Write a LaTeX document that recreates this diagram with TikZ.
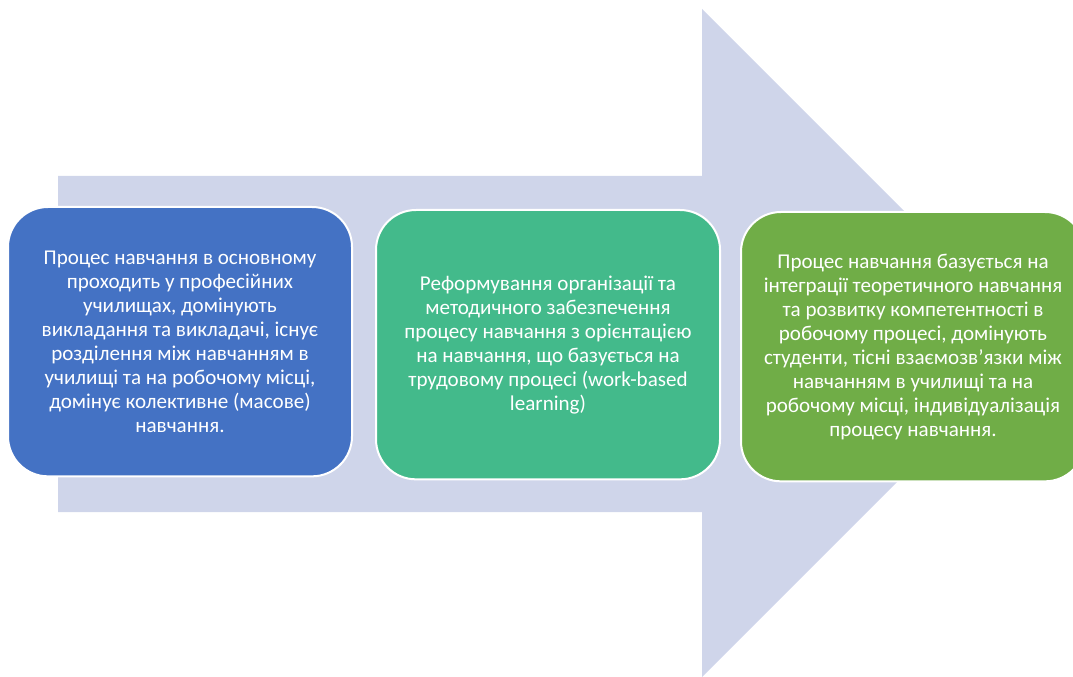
\documentclass[tikz,border=0pt]{standalone}
\usepackage{fontspec}
\setmainfont{Carlito}
\begin{document}
\begin{tikzpicture}[x=0.75pt,y=-0.75pt,
  stage/.style={draw=white, line width=1.5pt, rounded corners=30pt,
    text=white, align=center, font=\fontsize{15.8pt}{18pt}\selectfont,
    minimum height=202pt, anchor=north west, inner sep=0pt},
  flow/.style={fill=arrowfill, draw=none}]
\definecolor{arrowfill}{HTML}{CFD5EA}
\definecolor{bluebox}{HTML}{4472C4}
\definecolor{tealbox}{HTML}{43BA8B}
\definecolor{greenbox}{HTML}{70AD47}
\useasboundingbox (0,0) rectangle (1073,677);
% broad background arrow
\fill[flow] (58,176) -- (702,176) -- (702,9) -- (1036,343)
  -- (702,677) -- (702,512) -- (58,512) -- cycle;
% three stages
\node[stage, fill=bluebox, minimum width=258pt] (s1) at (7,206)
  {Процес навчання в основному\\проходить у професійних\\училищах, домінують\\викладання та викладачі, існує\\розділення між навчанням в\\училищі та на робочому місці,\\домінує колективне (масове)\\навчання.};
\node[stage, fill=tealbox, minimum width=258pt] (s2) at (375,209)
  {Реформування організації та\\методичного забезпечення\\процесу навчання з орієнтацією\\на навчання, що базується на\\трудовому процесі (work-based\\learning)};
\node[stage, fill=greenbox, minimum width=258pt] (s3) at (740,211)
  {Процес навчання базується на\\інтеграції теоретичного навчання\\та розвитку компетентності в\\робочому процесі, домінують\\студенти, тісні взаємозв’язки між\\навчанням в училищі та на\\робочому місці, індивідуалізація\\процесу навчання.};
\end{tikzpicture}
\end{document}
